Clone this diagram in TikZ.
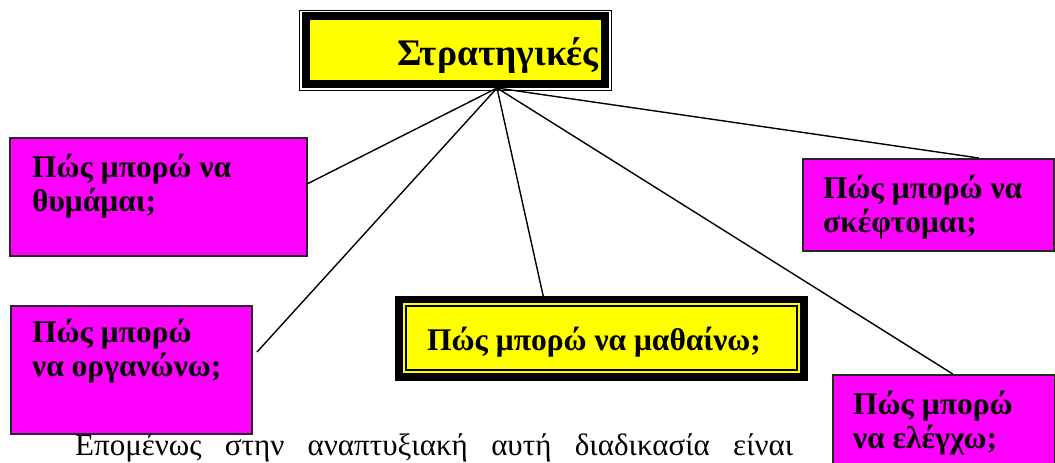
\documentclass[tikz,border=0pt]{standalone}
\usepackage{fontspec}
\setmainfont{Liberation Serif}
\definecolor{magfill}{RGB}{255,0,255}
\definecolor{yelfill}{RGB}{255,255,0}
\begin{document}
\begin{tikzpicture}[x=1pt,y=-1pt,
  magbox/.style={draw=black!85, line width=1.5pt, fill=magfill, inner sep=0pt, anchor=north west},
  btxt/.style={font=\fontsize{31.5}{34}\selectfont\bfseries, align=left, anchor=base west, inner sep=0pt},
  conn/.style={line width=1.4pt}]
\clip (0,0) rectangle (1055,463);
\fill[white] (0,0) rectangle (1055,463);
% title box
\draw[line width=1.2pt] (299.5,10.5) rectangle (611.5,90.5);
\fill[black] (302,12) rectangle (609,88);
\node[fill=yelfill, inner sep=0pt, minimum width=291pt, minimum height=60pt, anchor=north west] (top) at (310,20) {};
\node[font=\fontsize{37.5}{40}\selectfont\bfseries, anchor=base west, inner sep=0pt] (title) at (397,65) {Στρατηγικές};
% middle box
\node[fill=black, inner sep=0pt, minimum width=413pt, minimum height=85pt, anchor=north west] (mid) at (395,296) {};
\fill[yelfill] (403,303) rectangle (800,373);
\draw[line width=2pt, fill=yelfill] (406,306) rectangle (797,370);
\node[btxt] (midtext) at (427,350) {Πώς μπορώ να μαθαίνω;};
% magenta boxes
\node[magbox, minimum width=297pt, minimum height=118pt] (b1) at (9,137) {};
\node[btxt] (t1) at (32,211) {Πώς μπορώ να\\θυμάμαι;};
\node[magbox, minimum width=241pt, minimum height=128pt] (b2) at (10,305) {};
\node[btxt] (t2) at (32,376) {Πώς μπορώ\\να οργανώνω;};
\node[magbox, minimum width=251pt, minimum height=92pt] (b3) at (802,158) {};
\node[btxt] (t3) at (823,232) {Πώς μπορώ να\\σκέφτομαι;};
\node[magbox, minimum width=222pt, minimum height=101pt] (b4) at (832,374) {};
\node[btxt] (t4) at (853,448) {Πώς μπορώ\\να ελέγχω;};
% connectors
\coordinate (apex) at (497,88);
\coordinate (free2) at (257,352);
\draw[conn] (apex) -- ([yshift=13pt]b1.east);
\draw[conn] (apex) -- (free2);
\draw[conn] (apex) -- ([xshift=-58.5pt]mid.north);
\draw[conn] (apex) -- ([xshift=50.5pt]b3.north);
\draw[conn] (apex) -- ([xshift=9pt]b4.north);
% paragraph text
\node[font=\fontsize{31}{34}\selectfont, anchor=base west, inner sep=0pt] (para) at (75,455) {\makebox[718pt][s]{Επομένως στην αναπτυξιακή αυτή διαδικασία είναι}};
\end{tikzpicture}
\end{document}
